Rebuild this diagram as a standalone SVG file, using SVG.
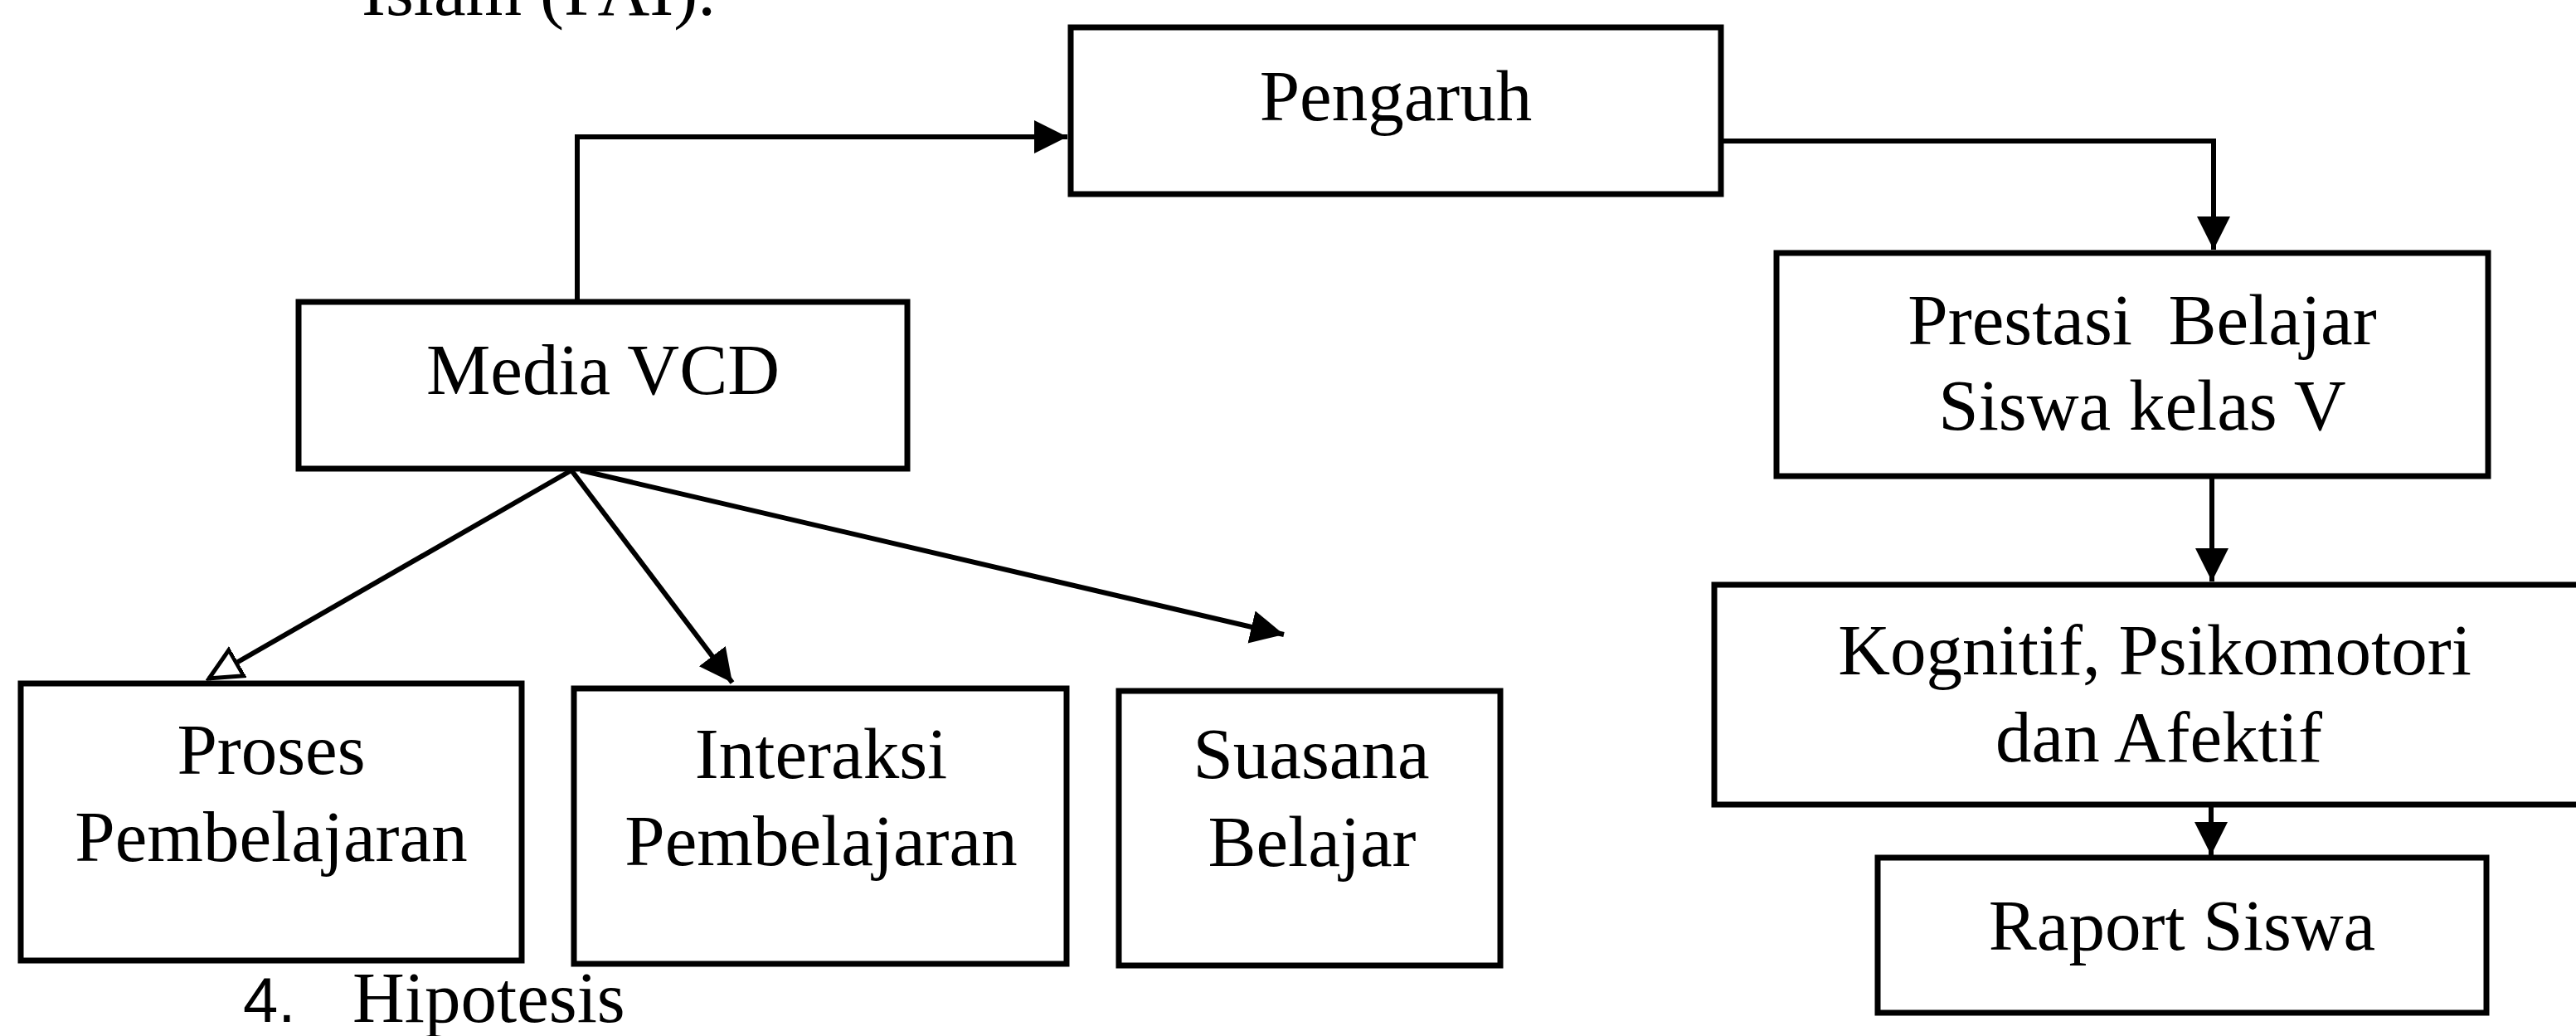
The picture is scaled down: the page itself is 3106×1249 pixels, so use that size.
<svg xmlns="http://www.w3.org/2000/svg" width="3106" height="1249" viewBox="0 0 3106 1249">
<defs>
<style>
.box{fill:#fff;stroke:#000;stroke-width:7}
.t{font-family:"Liberation Serif","Times New Roman",serif;font-size:87px;fill:#000;text-anchor:middle;white-space:pre}
.c{fill:none;stroke:#000;stroke-width:6}
</style>
<marker id="ah" markerUnits="userSpaceOnUse" markerWidth="42" markerHeight="44" refX="40" refY="22" orient="auto" viewBox="0 0 42 44">
<path d="M0,2 L40,22 L0,42 z" fill="#000"/>
</marker>
<marker id="aho" markerUnits="userSpaceOnUse" markerWidth="44" markerHeight="44" refX="40" refY="22" orient="auto" viewBox="0 0 44 44">
<path d="M2,4 L40,22 L2,40 z" fill="#fff" stroke="#000" stroke-width="5"/>
</marker>
</defs>
<rect width="3106" height="1249" fill="#fff"/>
<text x="436" y="18" class="t" style="text-anchor:start">Islam (PAI).</text>
<g id="connectors">
<path class="c" d="M696,364 V165 H1287" marker-end="url(#ah)"/>
<path class="c" d="M2075,170 H2669 V301" marker-end="url(#ah)"/>
<path class="c" d="M2667,574 V701" marker-end="url(#ah)"/>
<path class="c" d="M2666,970 V1031" marker-end="url(#ah)"/>
<path class="c" d="M689,567 L252,818" marker-end="url(#aho)"/>
<path class="c" d="M689,567 L883,823" marker-end="url(#ah)"/>
<path class="c" d="M700,567 L1548,765" marker-end="url(#ah)"/>
</g>
<g id="pengaruh">
<rect class="box" x="1291" y="33" width="784" height="201"/>
<text class="t" x="1683" y="145">Pengaruh</text>
</g>
<g id="media-vcd">
<rect class="box" x="360" y="364" width="734" height="201"/>
<text class="t" x="727" y="475">Media VCD</text>
</g>
<g id="prestasi">
<rect class="box" x="2142" y="305" width="858" height="269"/>
<text class="t" x="2583" y="415">Prestasi  Belajar</text>
<text class="t" x="2583" y="518">Siswa kelas V</text>
</g>
<g id="kognitif">
<rect class="box" x="2067" y="705" width="1060" height="265"/>
<text class="t" x="2598" y="813">Kognitif, Psikomotori</text>
<text class="t" x="2603" y="918">dan Afektif</text>
</g>
<g id="raport">
<rect class="box" x="2264" y="1034" width="734" height="187"/>
<text class="t" x="2631" y="1145">Raport Siswa</text>
</g>
<g id="proses">
<rect class="box" x="25" y="824" width="604" height="334"/>
<text class="t" x="327" y="933">Proses</text>
<text class="t" x="327" y="1038">Pembelajaran</text>
</g>
<g id="interaksi">
<rect class="box" x="692" y="830" width="594" height="332"/>
<text class="t" x="990" y="938">Interaksi</text>
<text class="t" x="990" y="1043">Pembelajaran</text>
</g>
<g id="suasana">
<rect class="box" x="1349" y="833" width="460" height="331"/>
<text class="t" x="1581" y="938">Suasana</text>
<text class="t" x="1582" y="1044">Belajar</text>
</g>
<text x="293" y="1232" style="font-family:'Liberation Sans',Arial,sans-serif;font-size:76px;fill:#000">4.</text>
<text x="425" y="1232" class="t" style="text-anchor:start">Hipotesis</text>
</svg>
